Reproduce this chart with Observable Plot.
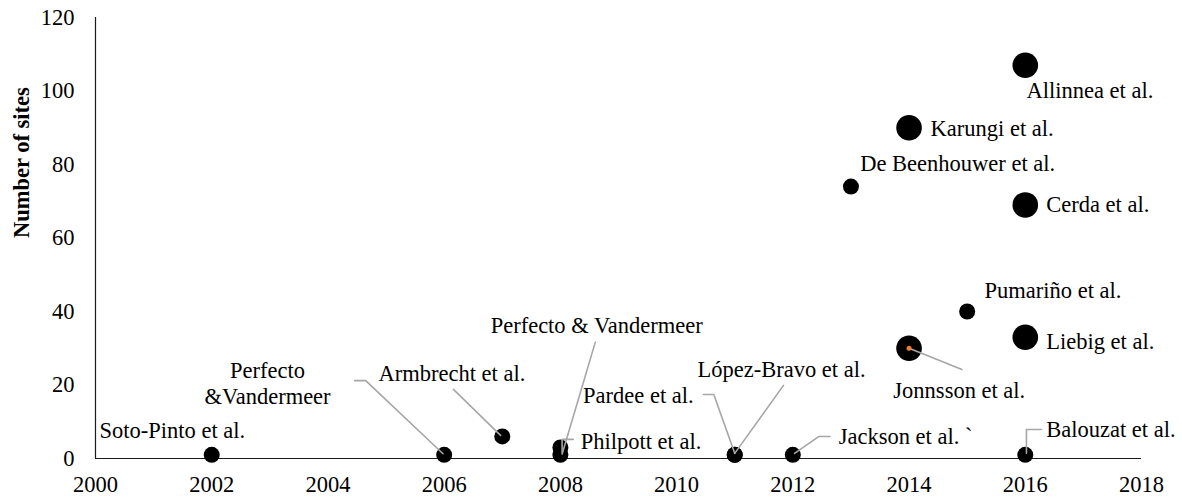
<!DOCTYPE html>
<html><head><meta charset="utf-8">
<script src="https://cdn.jsdelivr.net/npm/d3@7"></script>
<script src="https://cdn.jsdelivr.net/npm/@observablehq/plot@0.6"></script>
<style>
html,body{margin:0;padding:0;background:#fff;}
#chart svg{display:block;}
#chart svg, #chart svg text{font-family:"Liberation Serif","Times New Roman",Times,serif !important;}
</style>
</head><body><div id="chart"></div>
<script>
// ---- data ----
const studies = ["Soto-Pinto et al.", "Perfecto\n&Vandermeer", "Armbrecht et al.", "Perfecto & Vandermeer", "Philpott et al.", "Pardee et al.", "López-Bravo et al.", "Jackson et al. `", "De Beenhouwer et al.", "Karungi et al.", "Jonnsson et al.", "Pumariño et al.", "Allinnea et al.", "Cerda et al.", "Liebig et al.", "Balouzat et al."];
const years   = [2002, 2006, 2007, 2008, 2008, 2011, 2011, 2012, 2013, 2014, 2014, 2015, 2016, 2016, 2016, 2016];
const sites   = [1, 1, 6, 3, 1, 1, 1, 1, 74, 90, 30, 40, 107, 69, 33, 1];
const weight  = [1, 1, 1, 1, 1, 1, 1, 1, 1, 2, 2, 1, 2, 2, 2, 1];

// label anchor positions (data units)
const labelYear  = [2000.07, 2002.96, 2004.87, 2006.80, 2008.35, 2008.39, 2010.36, 2012.79, 2013.16, 2014.37, 2013.73, 2015.30, 2016.02, 2016.36, 2016.36, 2016.36];
const labelSites = [7.6, 20.7, 23.1, 36.2, 4.6, 17.1, 24.2, 6.0, 80.3, 89.8, 18.5, 45.7, 100.1, 69.1, 31.8, 7.9];

// leader lines (data units)
const leaderStudy = ["Perfecto\n&Vandermeer","Perfecto\n&Vandermeer","Perfecto\n&Vandermeer",
  "Armbrecht et al.","Armbrecht et al.",
  "Perfecto & Vandermeer","Perfecto & Vandermeer",
  "Philpott et al.","Philpott et al.","Philpott et al.",
  "Pardee et al.","Pardee et al.","Pardee et al.",
  "López-Bravo et al.","López-Bravo et al.",
  "Jackson et al. `","Jackson et al. `","Jackson et al. `",
  "Balouzat et al.","Balouzat et al.","Balouzat et al.",
  "Jonnsson et al.","Jonnsson et al."];
const leaderYear = [2004.46, 2004.65, 2005.98,
  2006.16, 2006.97,
  2008.60, 2008.03,
  2008.22, 2008.03, 2008.03,
  2010.46, 2010.64, 2011.0,
  2011.84, 2011.0,
  2012.64, 2012.45, 2012.03,
  2016.28, 2016.02, 2016.02,
  2014.0, 2014.91];
const leaderSites = [21.2, 21.2, 1.3,
  18.8, 6.3,
  31.6, 1.2,
  5.2, 5.2, 1.6,
  17.4, 17.4, 1.4,
  19.9, 1.4,
  6.0, 6.0, 1.4,
  7.9, 7.9, 1.4,
  30, 24.2];

const xTicks = [2000, 2002, 2004, 2006, 2008, 2010, 2012, 2014, 2016, 2018];
const yTicks = [0, 20, 40, 60, 80, 100, 120];
const yLabel = "Number of sites";

// ---- tables ----
const points = studies.map((s, i) => ({study: s, year: years[i], sites: sites[i], weight: weight[i], ly: labelYear[i], ls: labelSites[i]}));
const leaders = leaderStudy.map((s, i) => ({study: s, year: leaderYear[i], sites: leaderSites[i]}));
const highlight = points.filter(d => d.study === "Jonnsson et al.");

const font = "Liberation Serif";
const fs = 22.5;

const chart = Plot.plot({
  width: 1182,
  height: 497,
  marginLeft: 95,
  marginRight: 41,
  marginTop: 17,
  marginBottom: 39,
  style: {fontFamily: font, fontSize: fs + "px", color: "#000", background: "#fff"},
  x: {domain: [2000, 2018]},
  y: {domain: [0, 120]},
  r: {type: "linear", domain: [1, 2], range: [8, 12.8]},
  marks: [
    Plot.axisX({ticks: xTicks, tickFormat: "d", tickSize: 0, tickPadding: 18, fontSize: fs, fontFamily: font, label: null}),
    Plot.axisY({ticks: yTicks, tickSize: 0, tickPadding: 21, fontSize: fs, fontFamily: font, label: null}),
    Plot.ruleY([0], {stroke: "#1a1a1a", strokeWidth: 1.2}),
    Plot.ruleX([2000], {stroke: "#1a1a1a", strokeWidth: 1.2}),
    Plot.text([yLabel], {frameAnchor: "left", dx: -74, rotate: -90, text: d => d, fontWeight: "bold", fontSize: fs, fontFamily: font, fill: "#000"}),
    Plot.dot(points, {x: "year", y: "sites", r: "weight", fill: "#000", stroke: "none"}),
    Plot.line(leaders, {x: "year", y: "sites", z: "study", stroke: "#A6A6A6", strokeWidth: 1.6, curve: "linear"}),
    Plot.dot(highlight, {x: "year", y: "sites", r: 2.5, fill: "#ED7D31", stroke: "none"}),
    Plot.text(points.filter(d => !d.study.includes("\n")), {x: "ly", y: "ls", text: "study", textAnchor: "start", lineAnchor: "middle", fontSize: fs, fontFamily: font, fill: "#000"}),
    Plot.text(points.filter(d => d.study.includes("\n")), {x: "ly", y: "ls", text: "study", textAnchor: "middle", lineAnchor: "middle", lineHeight: 1.16, fontSize: fs, fontFamily: font, fill: "#000"})
  ]
});
document.getElementById("chart").appendChild(chart);
</script>
</body></html>
